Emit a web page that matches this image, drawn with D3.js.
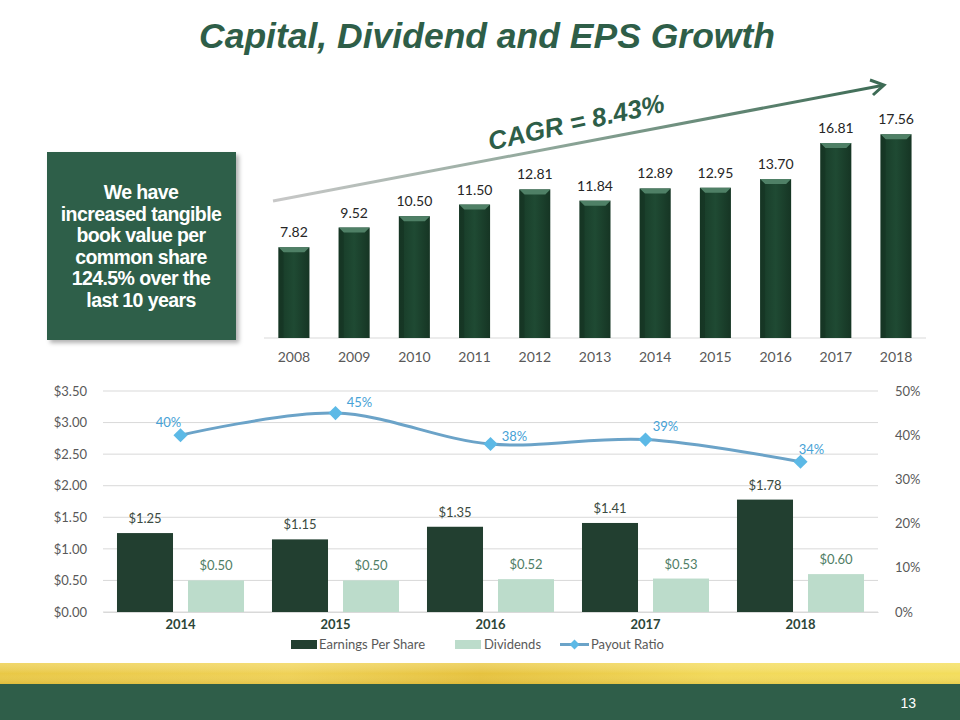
<!DOCTYPE html>
<html>
<head>
<meta charset="utf-8">
<script src="https://cdn.jsdelivr.net/npm/d3@7"></script>
<style>
  html, body { margin: 0; padding: 0; background: #fff; }
  svg { display: block; }
</style>
</head>
<body>
<svg id="chart" width="960" height="720"></svg>
<script>
// ---------- DATA ----------
const tbvYears = ["2008","2009","2010","2011","2012","2013","2014","2015","2016","2017","2018"];
const tbvValues = [7.82, 9.52, 10.50, 11.50, 12.81, 11.84, 12.89, 12.95, 13.70, 16.81, 17.56];

const epsYears = ["2014","2015","2016","2017","2018"];
const epsValues = [1.25, 1.15, 1.35, 1.41, 1.78];
const dividendValues = [0.50, 0.50, 0.52, 0.53, 0.60];
const payoutRatio = [0.40, 0.45, 0.38, 0.39, 0.34];

const leftTicks = [0, 0.5, 1.0, 1.5, 2.0, 2.5, 3.0, 3.5];
const rightTicks = [0, 0.1, 0.2, 0.3, 0.4, 0.5];

const titleText = "Capital, Dividend and EPS Growth";
const cagrText = "CAGR = 8.43%";
const boxLines = ["We have", "increased tangible", "book value per", "common share", "124.5% over the", "last 10 years"];
const seriesNames = ["Earnings Per Share", "Dividends", "Payout Ratio"];
const pageNumber = "13";

// ---------- SETUP ----------
const svg = d3.select("#chart");
const defs = svg.append("defs");
const GREEN = "#2e5e48";
const numFont = "Lato, 'Open Sans', sans-serif";

// Gradients
const barGrad = defs.append("linearGradient").attr("id", "barGrad").attr("x1", "0").attr("x2", "1").attr("y1", "0").attr("y2", "0");
barGrad.append("stop").attr("offset", "0").attr("stop-color", "#173a27");
barGrad.append("stop").attr("offset", "0.5").attr("stop-color", "#1f4a33");
barGrad.append("stop").attr("offset", "1").attr("stop-color", "#163524");

const arrowGrad = defs.append("linearGradient").attr("id", "arrowGrad").attr("gradientUnits", "userSpaceOnUse")
  .attr("x1", 273).attr("y1", 201).attr("x2", 883).attr("y2", 85);
arrowGrad.append("stop").attr("offset", "0").attr("stop-color", "#c8c8c8");
arrowGrad.append("stop").attr("offset", "0.45").attr("stop-color", "#8fa79a");
arrowGrad.append("stop").attr("offset", "1").attr("stop-color", "#3d6b55");

const goldGrad = defs.append("linearGradient").attr("id", "goldGrad").attr("x1", "0").attr("x2", "1").attr("y1", "0").attr("y2", "0");
goldGrad.append("stop").attr("offset", "0").attr("stop-color", "#e9c845");
goldGrad.append("stop").attr("offset", "0.3").attr("stop-color", "#efd156");
goldGrad.append("stop").attr("offset", "0.5").attr("stop-color", "#e6c23e");
goldGrad.append("stop").attr("offset", "0.75").attr("stop-color", "#f2d95a");
goldGrad.append("stop").attr("offset", "1").attr("stop-color", "#f3dd5c");
const goldV = defs.append("linearGradient").attr("id", "goldV").attr("x1", "0").attr("x2", "0").attr("y1", "0").attr("y2", "1");
goldV.append("stop").attr("offset", "0").attr("stop-color", "#fff3b0").attr("stop-opacity", 0.35);
goldV.append("stop").attr("offset", "0.5").attr("stop-color", "#ffffff").attr("stop-opacity", 0);
goldV.append("stop").attr("offset", "1").attr("stop-color", "#b08a10").attr("stop-opacity", 0.18);

const shadow = defs.append("filter").attr("id", "shadow").attr("x", "-10%").attr("y", "-10%").attr("width", "130%").attr("height", "130%");
shadow.append("feDropShadow").attr("dx", 3).attr("dy", 3).attr("stdDeviation", 2).attr("flood-color", "#000").attr("flood-opacity", 0.3);

// ---------- TITLE ----------
svg.append("text").attr("x", 487).attr("y", 48).attr("text-anchor", "middle")
  .attr("font-family", "Arial, 'Liberation Sans', sans-serif").attr("font-weight", "bold").attr("font-style", "italic")
  .attr("font-size", 35.5).attr("fill", GREEN).text(titleText);

// ---------- TEXT BOX ----------
svg.append("rect").attr("x", 47).attr("y", 152).attr("width", 189).attr("height", 188).attr("fill", GREEN).attr("filter", "url(#shadow)");
svg.append("g").selectAll("text").data(boxLines).join("text")
  .attr("x", 141).attr("y", (d, i) => 199 + i * 21.6).attr("text-anchor", "middle")
  .attr("font-family", "Arial, 'Liberation Sans', sans-serif").attr("font-weight", "bold")
  .attr("font-size", 19.5).attr("letter-spacing", -0.6).attr("fill", "#fff").text(d => d);

// ---------- TOP CHART ----------
const xTop = d3.scaleBand().domain(tbvYears).range([264, 926]).paddingInner(0.485).paddingOuter(0.24);
const yTop = d3.scaleLinear().domain([0, 20]).range([338, 106]);

const topG = svg.append("g");
topG.append("line").attr("x1", 264).attr("x2", 926).attr("y1", yTop(0)).attr("y2", yTop(0)).attr("stroke", "#d9d9d9").attr("stroke-width", 1);

const bars = topG.selectAll("g.bar").data(tbvYears.map((y, i) => ({ y, v: tbvValues[i] }))).join("g").attr("class", "bar");
bars.append("rect").attr("x", d => xTop(d.y)).attr("y", d => yTop(d.v)).attr("width", xTop.bandwidth())
  .attr("height", d => yTop(0) - yTop(d.v)).attr("fill", "url(#barGrad)");
bars.append("path").attr("d", d => {
  const x0 = xTop(d.y), x1 = x0 + xTop.bandwidth(), t = yTop(d.v);
  return `M${x0},${t} L${x1},${t} L${x1 - 5},${t + 5} L${x0 + 5},${t + 5} Z`;
}).attr("fill", "#4f8066");
bars.append("path").attr("d", d => {
  const x0 = xTop(d.y), t = yTop(d.v);
  return `M${x0},${t} L${x0 + 5},${t + 5} L${x0 + 5},${yTop(0)} L${x0},${yTop(0)} Z`;
}).attr("fill", "#133020").attr("opacity", 0.5);
bars.append("text").attr("x", d => xTop(d.y) + xTop.bandwidth() / 2).attr("y", d => yTop(d.v) - 10)
  .attr("text-anchor", "middle").attr("font-family", numFont).attr("font-size", 14).attr("fill", "#262626")
  .text(d => d.v.toFixed(2));

const xAxisTop = d3.axisBottom(xTop).tickSize(0).tickPadding(14);
const gxTop = topG.append("g").attr("transform", `translate(0,${yTop(0)})`).call(xAxisTop);
gxTop.select(".domain").remove();
gxTop.selectAll("text").attr("font-family", numFont).attr("font-size", 14).attr("fill", "#595959");

// Arrow
svg.append("line").attr("x1", 273).attr("y1", 201).attr("x2", 882).attr("y2", 85.5)
  .attr("stroke", "url(#arrowGrad)").attr("stroke-width", 3);
svg.append("path").attr("d", "M870,80 L884,85 L873,95").attr("fill", "none").attr("stroke", "#3d6b55").attr("stroke-width", 3).attr("stroke-linejoin", "miter");
svg.append("text").attr("transform", "translate(578,131) rotate(-12.5)").attr("text-anchor", "middle")
  .attr("font-family", "Arial, 'Liberation Sans', sans-serif").attr("font-weight", "bold").attr("font-style", "italic")
  .attr("font-size", 26).attr("fill", GREEN).text(cagrText);

// ---------- BOTTOM CHART ----------
const x0 = d3.scaleBand().domain(epsYears).range([103, 878]);
const x1 = d3.scaleBand().domain(["eps", "div"]).range([0, x0.bandwidth()]).paddingInner(0.211).paddingOuter(0.197);
const yL = d3.scaleLinear().domain([0, 3.5]).range([612, 391]);
const yR = d3.scaleLinear().domain([0, 0.5]).range([612, 391]);

const botG = svg.append("g");
botG.selectAll("line.grid").data(leftTicks).join("line").attr("class", "grid")
  .attr("x1", 103).attr("x2", 878).attr("y1", d => yL(d)).attr("y2", d => yL(d))
  .attr("stroke", "#d9d9d9").attr("stroke-width", 1);

const yAxisL = d3.axisLeft(yL).tickValues(leftTicks).tickFormat(d => "$" + d.toFixed(2)).tickSize(0).tickPadding(16);
const gyL = botG.append("g").attr("transform", "translate(103,0)").call(yAxisL);
gyL.select(".domain").remove();
gyL.selectAll("text").attr("font-family", numFont).attr("font-size", 13).attr("fill", "#595959");

const yAxisR = d3.axisRight(yR).tickValues(rightTicks).tickFormat(d3.format(".0%")).tickSize(0).tickPadding(17);
const gyR = botG.append("g").attr("transform", "translate(878,0)").call(yAxisR);
gyR.select(".domain").remove();
gyR.selectAll("text").attr("font-family", numFont).attr("font-size", 13).attr("fill", "#595959");

const groups = botG.selectAll("g.grp").data(epsYears.map((y, i) => ({ y, eps: epsValues[i], div: dividendValues[i], pr: payoutRatio[i] })))
  .join("g").attr("class", "grp").attr("transform", d => `translate(${x0(d.y)},0)`);
groups.append("rect").attr("x", x1("eps")).attr("width", x1.bandwidth()).attr("y", d => yL(d.eps)).attr("height", d => yL(0) - yL(d.eps)).attr("fill", "#223f30");
groups.append("rect").attr("x", x1("div")).attr("width", x1.bandwidth()).attr("y", d => yL(d.div)).attr("height", d => yL(0) - yL(d.div)).attr("fill", "#bcdccb");
groups.append("text").attr("x", x1("eps") + x1.bandwidth() / 2).attr("y", d => yL(d.eps) - 10).attr("text-anchor", "middle")
  .attr("font-family", numFont).attr("font-size", 13).attr("fill", "#3b4a41").text(d => "$" + d.eps.toFixed(2));
groups.append("text").attr("x", x1("div") + x1.bandwidth() / 2).attr("y", d => yL(d.div) - 10).attr("text-anchor", "middle")
  .attr("font-family", numFont).attr("font-size", 13).attr("fill", "#4f7d66").text(d => "$" + d.div.toFixed(2));

const xAxisB = d3.axisBottom(x0).tickSize(0).tickPadding(8);
const gxB = botG.append("g").attr("transform", `translate(0,${yL(0)})`).call(xAxisB);
gxB.select(".domain").attr("stroke", "#d9d9d9");
gxB.selectAll("text").attr("font-family", numFont).attr("font-weight", "bold").attr("font-size", 13).attr("fill", "#2c4538");

// Payout line
const pts = epsYears.map((y, i) => ({ x: x0(y) + x0.bandwidth() / 2, y: yR(payoutRatio[i]), v: payoutRatio[i] }));
const lineGen = d3.line().x(d => d.x).y(d => d.y).curve(d3.curveCatmullRom.alpha(0.5));
botG.append("path").attr("d", lineGen(pts)).attr("fill", "none").attr("stroke", "#6ba3c8").attr("stroke-width", 3);
botG.selectAll("path.mk").data(pts).join("path").attr("class", "mk")
  .attr("d", d3.symbol().type(d3.symbolSquare).size(100)).attr("transform", d => `translate(${d.x},${d.y}) rotate(45)`)
  .attr("fill", "#5cb9e6");
const prOffsets = [[-12, -8], [24, -6], [24, -3], [20, -9], [11, -8]];
botG.selectAll("text.pr").data(pts).join("text").attr("class", "pr")
  .attr("x", (d, i) => d.x + prOffsets[i][0]).attr("y", (d, i) => d.y + prOffsets[i][1])
  .attr("text-anchor", "middle").attr("font-family", numFont).attr("font-size", 13).attr("fill", "#47a2d6")
  .text(d => Math.round(d.v * 100) + "%");

// Legend
const lg = svg.append("g").attr("font-family", numFont).attr("font-size", 13).attr("fill", "#595959");
lg.append("rect").attr("x", 291).attr("y", 640).attr("width", 26).attr("height", 9).attr("fill", "#223f30");
lg.append("text").attr("x", 319).attr("y", 649).text(seriesNames[0]);
lg.append("rect").attr("x", 455).attr("y", 640).attr("width", 26).attr("height", 9).attr("fill", "#bcdccb");
lg.append("text").attr("x", 484).attr("y", 649).text(seriesNames[1]);
lg.append("line").attr("x1", 560).attr("x2", 589).attr("y1", 644.5).attr("y2", 644.5).attr("stroke", "#6ba3c8").attr("stroke-width", 3);
lg.append("path").attr("d", d3.symbol().type(d3.symbolSquare).size(50)).attr("transform", "translate(574.5,644.5) rotate(45)").attr("fill", "#5cb9e6");
lg.append("text").attr("x", 591).attr("y", 649).text(seriesNames[2]);

// ---------- FOOTER ----------
svg.append("rect").attr("x", 0).attr("y", 663).attr("width", 960).attr("height", 21).attr("fill", "url(#goldGrad)");
svg.append("rect").attr("x", 0).attr("y", 663).attr("width", 960).attr("height", 21).attr("fill", "url(#goldV)");
svg.append("rect").attr("x", 0).attr("y", 684).attr("width", 960).attr("height", 36).attr("fill", "#2f5e49");
svg.append("text").attr("x", 916).attr("y", 708).attr("text-anchor", "end").attr("font-family", "'Liberation Sans Narrow', Arial, sans-serif")
  .attr("font-size", 14).attr("fill", "#fff").text(pageNumber);
</script>
</body>
</html>
